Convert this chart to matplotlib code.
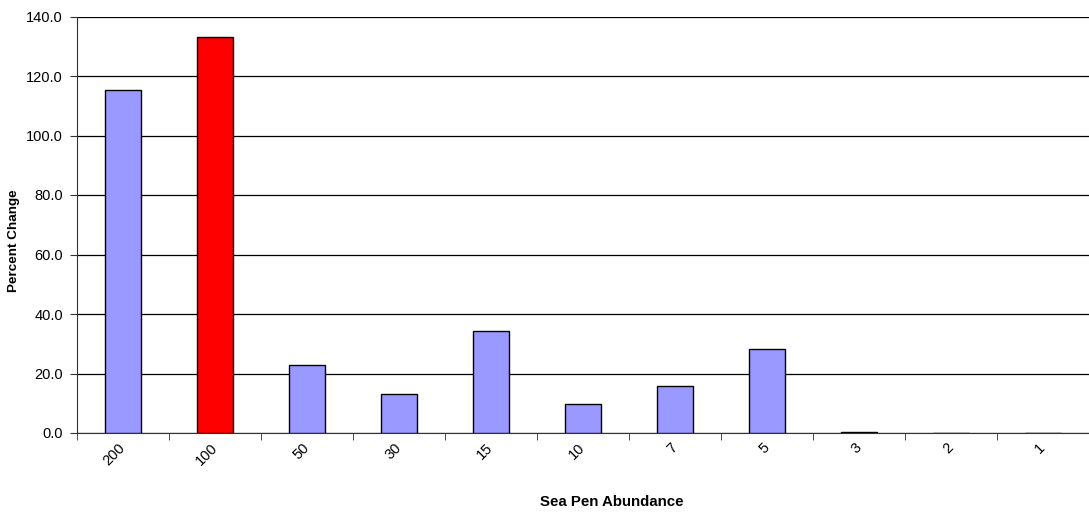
import numpy as np
import matplotlib.pyplot as plt

categories = ['200', '100', '50', '30', '15', '10', '7', '5', '3', '2', '1']
values = [115.3, 133.0, 22.9, 13.1, 34.3, 9.6, 15.8, 28.1, 0.4, 0.0, 0.0]
colors = ['#9999ff', '#ff0000', '#9999ff', '#9999ff', '#9999ff', '#9999ff',
          '#9999ff', '#9999ff', '#9999ff', '#9999ff', '#9999ff']

plt.rcParams['font.family'] = ['Liberation Sans', 'DejaVu Sans']

fig = plt.figure(figsize=(10.89, 5.15), dpi=100)
ax = fig.add_axes([77 / 1089, 1 - 433 / 515, 1012 / 1089, 416.5 / 515])

x = np.arange(len(categories))
ax.bar(x, values, width=0.4, color=colors, edgecolor='black', linewidth=1, zorder=3)

ax.set_xlim(-0.5, len(categories) - 0.5)
ax.set_ylim(0, 140)
ax.set_yticks(np.arange(0, 141, 20))
ax.set_yticklabels(['{:.1f}'.format(v) for v in np.arange(0, 141, 20)], fontsize=10.5)
ax.yaxis.grid(True, color='black', linewidth=0.9, zorder=0)

ax.set_xticks(x)
ax.set_xticklabels(categories, rotation=45, fontsize=10.5, ha='right',
                   va='center', rotation_mode='anchor')
ax.tick_params(axis='x', length=0, pad=9)
ax.set_xticks(np.arange(-0.5, len(categories), 1), minor=True)
ax.tick_params(axis='x', which='minor', length=5, color='#333333')
ax.tick_params(axis='y', length=5, color='#333333', pad=5)

for s in ['top', 'right']:
    ax.spines[s].set_visible(False)
ax.spines['left'].set_color('#333333')
ax.spines['bottom'].set_color('#333333')

ax.set_xlabel('Sea Pen Abundance', fontsize=10.8, fontweight='bold', va='center')
ax.xaxis.set_label_coords(0.528, -0.166)
ax.set_ylabel('Percent Change', fontsize=9.7, fontweight='bold', va='center')
ax.yaxis.set_label_coords(-0.0627, 0.461)

plt.savefig('out.png', dpi=100)
